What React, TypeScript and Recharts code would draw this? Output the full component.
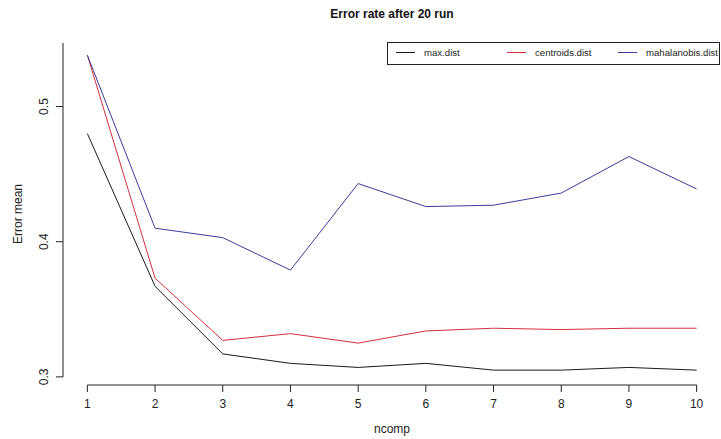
import { LineChart, Line, XAxis, YAxis, ReferenceLine, Label } from "recharts"

const ncomp = [1, 2, 3, 4, 5, 6, 7, 8, 9, 10]
const maxDist = [0.48, 0.367, 0.317, 0.31, 0.307, 0.31, 0.305, 0.305, 0.307, 0.305]
const centroidsDist = [0.538, 0.373, 0.327, 0.332, 0.325, 0.334, 0.336, 0.335, 0.336, 0.336]
const mahalanobisDist = [0.538, 0.41, 0.403, 0.379, 0.443, 0.426, 0.427, 0.436, 0.463, 0.439]
const yTicks = [0.3, 0.4, 0.5]

const X_DOMAIN = [0.64, 10.36]
const Y_DOMAIN = [0.294, 0.547]

const FONT = "'Liberation Sans', Arial, sans-serif"

const data = ncomp.map((n, i) => ({
  ncomp: n,
  max: maxDist[i],
  centroids: centroidsDist[i],
  mahalanobis: mahalanobisDist[i],
}))

const series = [
  { key: "max", name: "max.dist", color: "#1a1a1a" },
  { key: "centroids", name: "centroids.dist", color: "#d2303c" },
  { key: "mahalanobis", name: "mahalanobis.dist", color: "#3b3b9a" },
]

// y labels are drawn rotated, like R's default las=0
const YTick = ({ x, y, payload }: any) => (
  <text
    x={x - 6}
    y={y}
    transform={`rotate(-90, ${x - 6}, ${y})`}
    textAnchor="middle"
    fontSize={12}
    fontFamily={FONT}
    fill="#222"
  >
    {payload.value.toFixed(1)}
  </text>
)

const LegendBox = () => (
  <div
    style={{
      position: "absolute",
      left: 387,
      top: 42,
      width: 333,
      height: 23,
      border: "1px solid #222",
      fontFamily: FONT,
      fontSize: 9.6,
      color: "#222",
      boxSizing: "border-box",
      whiteSpace: "nowrap",
    }}
  >
    {series.map((s, i) => (
      <div
        key={s.key}
        style={{ position: "absolute", left: [8, 119, 230][i], top: 4, display: "flex", alignItems: "center" }}
      >
        <span style={{ display: "inline-block", width: 19, borderTop: `1px solid ${s.color}`, marginRight: 9 }} />
        <span>{s.name}</span>
      </div>
    ))}
  </div>
)

export default function App() {
  return (
    <div style={{ position: "absolute", left: 0, top: 0, width: 721, height: 439, background: "#fff" }}>
      <div
        style={{
          position: "absolute",
          left: 63,
          width: 658,
          top: 7,
          textAlign: "center",
          fontFamily: FONT,
          fontWeight: "bold",
          fontSize: 12,
          color: "#111",
        }}
      >
        Error rate after 20 run
      </div>
      <LineChart width={721} height={439} data={data} margin={{ top: 43, right: 0, bottom: 24, left: 23 }}>
        <XAxis
          dataKey="ncomp"
          type="number"
          domain={X_DOMAIN}
          ticks={ncomp}
          axisLine={false}
          tickLine={{ stroke: "#222" }}
          tickSize={7}
          tickMargin={7}
          height={30}
          tick={{ fontSize: 12, fontFamily: FONT, fill: "#222" }}
          allowDataOverflow
        >
          <Label value="ncomp" position="insideBottom" offset={-18} style={{ fontSize: 12, fontFamily: FONT, fill: "#222" }} />
        </XAxis>
        <YAxis
          type="number"
          domain={Y_DOMAIN}
          ticks={yTicks}
          axisLine={false}
          tickLine={{ stroke: "#222" }}
          tickSize={7}
          width={40}
          tick={<YTick />}
          allowDataOverflow
        >
          <Label
            value="Error mean"
            angle={-90}
            position="insideLeft"
            offset={-5}
            style={{ fontSize: 12, fontFamily: FONT, fill: "#222", textAnchor: "middle" }}
          />
        </YAxis>
        <ReferenceLine
          segment={[
            { x: 1, y: Y_DOMAIN[0] },
            { x: 10, y: Y_DOMAIN[0] },
          ]}
          stroke="#222"
          ifOverflow="visible"
        />
        <ReferenceLine
          segment={[
            { x: X_DOMAIN[0], y: 0.3 },
            { x: X_DOMAIN[0], y: Y_DOMAIN[1] },
          ]}
          stroke="#222"
          ifOverflow="visible"
        />
        {series.map((s) => (
          <Line
            key={s.key}
            dataKey={s.key}
            name={s.name}
            stroke={s.color}
            strokeWidth={1}
            dot={false}
            activeDot={false}
            type="linear"
            isAnimationActive={false}
          />
        ))}
      </LineChart>
      <LegendBox />
    </div>
  )
}
